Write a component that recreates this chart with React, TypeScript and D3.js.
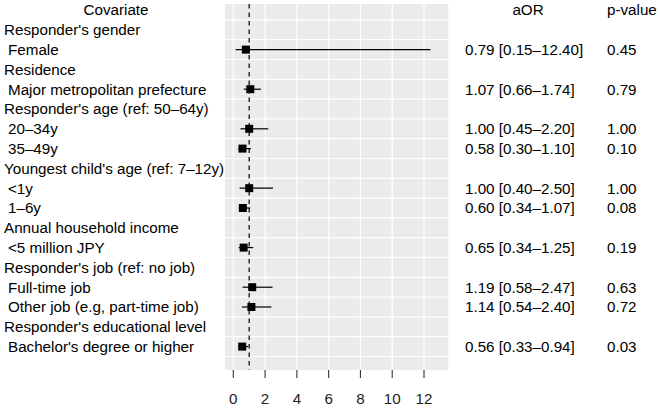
import React from "react";
import * as d3 from "d3";

const covariates = [
  "Responder's gender",
  "Female",
  "Residence",
  "Major metropolitan prefecture",
  "Responder's age (ref: 50–64y)",
  "20–34y",
  "35–49y",
  "Youngest child's age (ref: 7–12y)",
  "<1y",
  "1–6y",
  "Annual household income",
  "<5 million JPY",
  "Responder's job (ref: no job)",
  "Full-time job",
  "Other job (e.g, part-time job)",
  "Responder's educational level",
  "Bachelor's degree or higher",
];
const isGroup = [true, false, true, false, true, false, false, true, false, false, true, false, true, false, false, true, false];
const orValues: (number | null)[] = [null, 0.79, null, 1.07, null, 1.0, 0.58, null, 1.0, 0.6, null, 0.65, null, 1.19, 1.14, null, 0.56];
const ciLow: (number | null)[] = [null, 0.15, null, 0.66, null, 0.45, 0.3, null, 0.4, 0.34, null, 0.34, null, 0.58, 0.54, null, 0.33];
const ciHigh: (number | null)[] = [null, 12.4, null, 1.74, null, 2.2, 1.1, null, 2.5, 1.07, null, 1.25, null, 2.47, 2.4, null, 0.94];
const pValues: (string | null)[] = [null, "0.45", null, "0.79", null, "1.00", "0.10", null, "1.00", "0.08", null, "0.19", null, "0.63", "0.72", null, "0.03"];
const xTicks = [0, 2, 4, 6, 8, 10, 12];
const refLine = 1;

const W = 660;
const H = 408;
const FONT = "'Liberation Sans', Arial, sans-serif";
const FS = 15.2;

export default function App() {
  const x = d3.scaleLinear().domain([0, 12]).range([233.3, 424]);
  const y = d3.scaleLinear().domain([0, 17]).range([10, 346.6]);
  const panel = { x0: 225, x1: 448.3, y0: 4, y1: 370 };
  const gridY = d3.range(0, 18).map((i) => i + 0.5);
  const fmt = d3.format(".2f");

  return (
    <svg
      width={W}
      height={H}
      style={{ position: "absolute", left: 0, top: 0, display: "block", background: "#fff" }}
      fontFamily={FONT}
    >
      <rect x={panel.x0} y={panel.y0} width={panel.x1 - panel.x0} height={panel.y1 - panel.y0} fill="#ebebeb" />
      {gridY.map((g) => (
        <line key={"h" + g} x1={panel.x0} x2={panel.x1} y1={y(g)} y2={y(g)} stroke="#fff" strokeWidth={1.2} />
      ))}
      {xTicks.map((t) => (
        <line key={"v" + t} x1={x(t)} x2={x(t)} y1={panel.y0} y2={panel.y1} stroke="#fff" strokeWidth={1.2} />
      ))}
      <line
        x1={x(refLine)}
        x2={x(refLine)}
        y1={panel.y0}
        y2={panel.y1}
        stroke="#222"
        strokeWidth={1.4}
        strokeDasharray="4.5,4"
      />
      {covariates.map((c, i) => {
        const o = orValues[i];
        const lo = ciLow[i];
        const hi = ciHigh[i];
        if (o == null || lo == null || hi == null) return null;
        const yy = y(i + 1);
        return (
          <g key={"m" + i}>
            <line x1={x(lo)} x2={x(hi)} y1={yy} y2={yy} stroke="#000" strokeWidth={1.2} />
            <rect x={x(o) - 4} y={yy - 4} width={8} height={8} fill="#000" />
          </g>
        );
      })}
      {xTicks.map((t) => (
        <g key={"t" + t}>
          <line x1={x(t)} x2={x(t)} y1={panel.y1} y2={panel.y1 + 8} stroke="#333" strokeWidth={1.1} />
          <text x={x(t)} y={404} fontSize={FS} textAnchor="middle" fill="#222">
            {t}
          </text>
        </g>
      ))}
      <text x={116} y={y(0) + 5.3} fontSize={FS} textAnchor="middle" fill="#000">
        Covariate
      </text>
      <text x={528} y={y(0) + 5.3} fontSize={FS} textAnchor="middle" fill="#000">
        aOR
      </text>
      <text x={607} y={y(0) + 5.3} fontSize={FS} fill="#000">
        p-value
      </text>
      {covariates.map((c, i) => (
        <text key={"l" + i} x={isGroup[i] ? 4 : 8} y={y(i + 1) + 5.3} fontSize={FS} fill="#000">
          {c}
        </text>
      ))}
      {covariates.map((c, i) => {
        const o = orValues[i];
        const lo = ciLow[i];
        const hi = ciHigh[i];
        if (o == null || lo == null || hi == null) return null;
        return (
          <g key={"v" + i}>
            <text x={465} y={y(i + 1) + 5.3} fontSize={FS} fill="#000">
              {`${fmt(o)} [${fmt(lo)}–${fmt(hi)}]`}
            </text>
            <text x={607} y={y(i + 1) + 5.3} fontSize={FS} fill="#000">
              {pValues[i]}
            </text>
          </g>
        );
      })}
    </svg>
  );
}
